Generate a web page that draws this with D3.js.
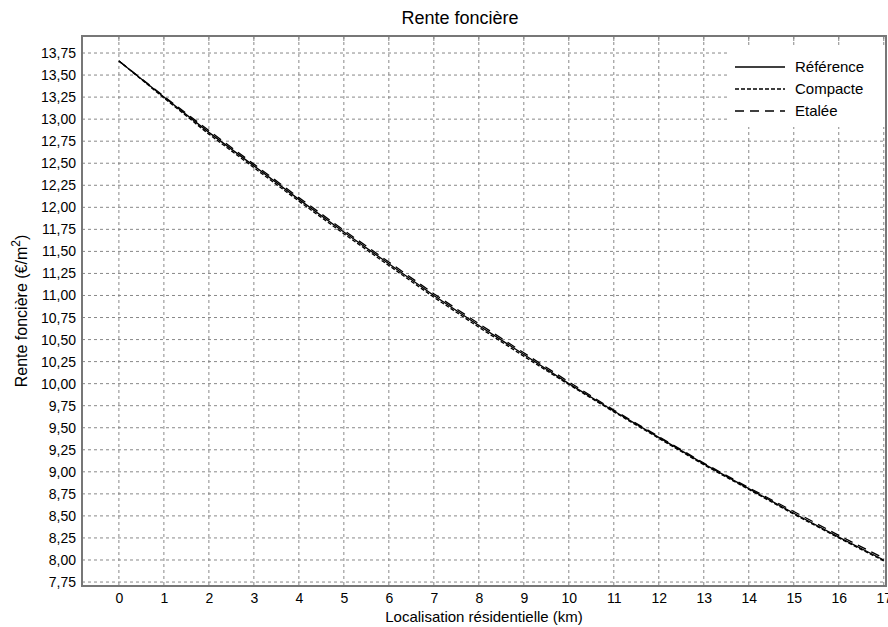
<!DOCTYPE html>
<html><head><meta charset="utf-8">
<script src="https://cdn.jsdelivr.net/npm/d3@7"></script>
<style>body{margin:0;background:#fff}svg{display:block}text{font-family:"Liberation Sans",Arial,sans-serif;fill:#000}</style>
</head><body><svg id="c" width="888" height="627"></svg>
<script>
const distances = [0,1,2,3,4,5,6,7,8,9,10,11,12,13,14,15,16,17];
const reference = [13.66,13.25,12.85,12.47,12.09,11.72,11.36,11.00,10.66,10.33,10.00,9.69,9.39,9.09,8.81,8.53,8.26,8.00];
const compacte  = [13.66,13.24,12.83,12.45,12.07,11.70,11.34,10.98,10.64,10.31,9.99,9.68,9.38,9.08,8.80,8.52,8.25,7.99];
const etalee    = [13.66,13.26,12.87,12.49,12.11,11.74,11.38,11.02,10.68,10.35,10.02,9.70,9.40,9.10,8.82,8.55,8.28,8.02];
const yTicks = [7.75,8,8.25,8.5,8.75,9,9.25,9.5,9.75,10,10.25,10.5,10.75,11,11.25,11.5,11.75,12,12.25,12.5,12.75,13,13.25,13.5,13.75];
const xTicks = distances;
const seriesNames = ["Référence","Compacte","Etalée"];
const seriesDash = [null,"4,2","9,6"];

const svg = d3.select("#c");
const L=82,R=886,T=36,B=586;
const x = d3.scaleLinear().domain([-0.82,17.05]).range([L,R]);
const y = d3.scaleLinear().domain([7.705,13.943]).range([B,T]);
const fmt = d=>d3.format(".2f")(d).replace(".",",");

// grid
const g = svg.append("g");
g.selectAll(".gx").data(xTicks).join("line").attr("x1",d=>x(d)).attr("x2",d=>x(d)).attr("y1",T).attr("y2",B)
 .attr("stroke","#888").attr("stroke-dasharray","3,3").attr("stroke-width",1);
g.selectAll(".gy").data(yTicks).join("line").attr("x1",L).attr("x2",R).attr("y1",d=>y(d)).attr("y2",d=>y(d))
 .attr("stroke","#888").attr("stroke-dasharray","3,3").attr("stroke-width",1);

// axes
const xa = svg.append("g").attr("transform",`translate(0,${B})`).call(d3.axisBottom(x).tickValues(xTicks).tickSize(0).tickPadding(7).tickFormat(d3.format("d")));
xa.select(".domain").remove();
xa.selectAll("text").attr("font-size",14);
const ya = svg.append("g").attr("transform",`translate(${L},0)`).call(d3.axisLeft(y).tickValues(yTicks).tickSize(0).tickPadding(6).tickFormat(fmt));
ya.select(".domain").remove();
ya.selectAll("text").attr("font-size",14);

// lines
const data = [reference,compacte,etalee];
const line = d3.line().x((d,i)=>x(distances[i])).y(d=>y(d));
data.forEach((s,k)=>{
  svg.append("path").datum(s).attr("d",line).attr("fill","none").attr("stroke","#000").attr("stroke-width",1.3)
   .attr("stroke-dasharray",seriesDash[k]);
});

// legend
const lg = svg.append("g");
lg.append("rect").attr("x",727).attr("y",48).attr("width",R-727).attr("height",79).attr("fill","#fff");
seriesNames.forEach((n,k)=>{
  const yy = 67 + k*22;
  lg.append("line").attr("x1",735).attr("x2",785).attr("y1",yy).attr("y2",yy).attr("stroke","#000").attr("stroke-width",1.3)
    .attr("stroke-dasharray",seriesDash[k]);
  lg.append("text").attr("x",795).attr("y",yy+5).attr("font-size",15).text(n);
});

// top tick marks
svg.selectAll(".tt").data(xTicks).join("line").attr("x1",d=>x(d)).attr("x2",d=>x(d)).attr("y1",T).attr("y2",T+5).attr("stroke","#888");
// frame
svg.append("rect").attr("x",L).attr("y",T).attr("width",R-L).attr("height",B-T).attr("fill","none").attr("stroke","#777").attr("stroke-width",2);

// titles
svg.append("text").attr("x",460).attr("y",24).attr("text-anchor","middle").attr("font-size",18).text("Rente foncière");
svg.append("text").attr("x",484).attr("y",622).attr("text-anchor","middle").attr("font-size",15).text("Localisation résidentielle (km)");
const yl = svg.append("text").attr("transform","translate(27,311) rotate(-90)").attr("text-anchor","middle").attr("font-size",16);
yl.append("tspan").text("Rente foncière (€/m");
yl.append("tspan").attr("dy",-7).attr("font-size",12).text("2");
yl.append("tspan").attr("dy",7).text(")");
</script></body></html>
